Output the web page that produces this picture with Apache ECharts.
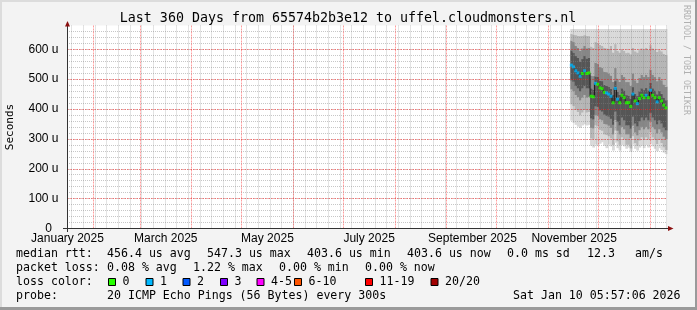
<!DOCTYPE html>
<html><head><meta charset="utf-8">
<script src="https://cdn.jsdelivr.net/npm/echarts@6/dist/echarts.min.js"></script>
<style>html,body{margin:0;padding:0;background:#f3f3f3}#c{width:697px;height:310px}</style>
</head><body><div id="c"></div>
<script>
// ---------- data ----------
const titleText = 'Last 360 Days from 65574b2b3e12 to uffel.cloudmonsters.nl';
const axisStartUTC = Date.UTC(2025, 0, 16, 5, 17);   // left edge of the time axis
const spanDays = 360;
const monthLabels = ['January 2025', 'March 2025', 'May 2025', 'July 2025', 'September 2025', 'November 2025'];
const monthLabelMonths = ['2025-01-01', '2025-03-01', '2025-05-01', '2025-07-01', '2025-09-01', '2025-11-01'];
const monthLines = ['2025-02-01', '2025-03-01', '2025-04-01', '2025-05-01', '2025-06-01', '2025-07-01',
  '2025-08-01', '2025-09-01', '2025-10-01', '2025-11-01', '2025-12-01', '2026-01-01'];
const firstWeekLine = '2025-01-19';
const yMax = 680;
const yMajor = 100;
const yMinor = 20;

const sampleStartDay = 302.6;   // days after axis start
const sampleStepDays = 1.32;

// median RTT (microseconds)
const median = [547, 541, 528, 521, 510, 519, 528, 519, 521, 443, 441, 486, 483, 471, 468, 456, 454, 450, 443, 421,
  469, 433, 421, 446, 438, 421, 421, 409, 450, 427, 418, 435, 446, 438, 446, 438, 463, 446, 438, 424, 438, 427, 413, 404];
// packet loss (%)
const lossPct = [0.20, 0.15, 0.10, 0.20, 0.10, 0, 0.15, 0, 0, 0, 0, 1.22, 0, 0, 0, 0, 0.10, 0.15, 0.10, 0,
  0.20, 0.10, 0, 0, 0, 0, 0, 0, 0.15, 0, 0.10, 0, 0, 0, 0.10, 0, 0.15, 0, 0, 0.10, 0, 0, 0, 0];
// smoke: distribution of the 20 pings per sample (bottom to top)
const minRtt = [362, 355, 348, 342, 338, 346, 350, 346, 348, 278, 272, 282, 278, 285, 290, 278, 270, 282, 276, 262,
  288, 270, 262, 280, 276, 268, 272, 258, 282, 268, 262, 272, 278, 270, 280, 272, 285, 276, 268, 260, 270, 264, 255, 250];
const p10 = [417, 411, 398, 391, 380, 389, 398, 389, 391, 303, 301, 346, 343, 331, 328, 316, 314, 310, 303, 281,
  329, 293, 281, 306, 298, 281, 281, 269, 310, 287, 278, 295, 306, 298, 306, 298, 323, 306, 298, 284, 298, 287, 273, 264];
const p25 = [467, 461, 448, 441, 430, 439, 448, 439, 441, 338, 336, 381, 378, 366, 363, 351, 349, 345, 338, 316,
  364, 328, 316, 341, 333, 316, 316, 304, 345, 322, 313, 330, 341, 333, 341, 333, 358, 341, 333, 319, 333, 322, 308, 300];
const coreLo = [497, 492, 478, 470, 460, 470, 478, 470, 470, 370, 366, 410, 408, 396, 392, 382, 378, 375, 368, 348,
  392, 358, 346, 372, 363, 346, 346, 335, 375, 352, 343, 360, 372, 363, 372, 363, 388, 372, 363, 350, 363, 352, 338, 330];
const coreHi = [597, 590, 578, 572, 560, 568, 578, 570, 572, 470, 466, 510, 508, 496, 494, 482, 478, 476, 468, 448,
  494, 458, 448, 470, 463, 447, 446, 435, 474, 452, 444, 460, 470, 464, 471, 463, 488, 470, 463, 450, 462, 452, 438, 430];
const p75 = [630, 625, 613, 606, 596, 604, 612, 604, 606, 513, 511, 556, 553, 541, 538, 526, 524, 520, 513, 492,
  538, 503, 492, 516, 508, 491, 491, 479, 520, 497, 488, 505, 516, 508, 516, 508, 533, 516, 508, 494, 508, 497, 483, 475];
const p90 = [652, 650, 648, 646, 645, 646, 648, 646, 645, 610, 606, 625, 622, 616, 612, 606, 604, 602, 612, 590,
  618, 596, 590, 600, 596, 588, 590, 584, 606, 594, 590, 598, 604, 600, 606, 600, 615, 604, 600, 592, 598, 594, 586, 582];
const maxRtt = [668, 668, 668, 668, 668, 668, 668, 668, 668, 668, 668, 668, 668, 668, 668, 668, 668, 668, 668, 668,
  668, 668, 668, 668, 668, 668, 668, 668, 668, 668, 668, 668, 668, 668, 668, 668, 668, 668, 668, 668, 668, 668, 668, 668];

const lossLabels = ['0', '1', '2', '3', '4-5', '6-10', '11-19', '20/20'];
const lossColors = ['#26ff00', '#00b8ff', '#0059ff', '#7e00ff', '#ff00ff', '#ff5500', '#ff0000', '#a10000'];
const lossUpper = [0, 1, 2, 3, 5, 10, 19, 20];   // lost pings out of 20

const rttStats = ['456.4 us avg', '547.3 us max', '403.6 us min', '403.6 us now', '0.0 ms sd', '12.3', 'am/s'];
const lossStats = ['0.08 % avg', '1.22 % max', '0.00 % min', '0.00 % now'];
const probeText = '20 ICMP Echo Pings (56 Bytes) every 300s';
const dateText = 'Sat Jan 10 05:57:06 2026';

// ---------- build ----------
const DAY = 86400000;
const toDay = s => (Date.parse(s + 'T00:00:00Z') - axisStartUTC) / DAY;
const labelDays = monthLabelMonths.map(s => toDay(s) + 15.5);
const monthDays = monthLines.map(toDay);
const weekDays = [];
for (let d = toDay(firstWeekLine); d < spanDays; d += 7) weekDays.push(d);
const xs = median.map((_, i) => sampleStartDay + i * sampleStepDays);
const lossClass = p => { const lost = p / 100 * 20; if (lost === 0) return 0; for (let k = 1; k < lossUpper.length; k++) if (lost <= lossUpper[k]) return k; return 7; };

const MONO = '"DejaVu Sans Mono", monospace';
const majorColor = 'rgba(255,0,0,0.38)';
const minorColor = 'rgba(130,130,130,0.45)';

const bounds = [minRtt, p10, p25, coreLo, coreHi, p75, p90, maxRtt];
const bandColors = ['#d9d9d9', '#b6b6b6', '#878787', '#565656', '#878787', '#b6b6b6', '#d9d9d9'];

const series = [];
// smoke as per-sample stacked bands
series.push({
  type: 'custom', silent: true, z: 2, encode: { x: 0, y: 1 },
  data: xs.map((x, i) => [x].concat(bounds.map(a => a[i]))),
  renderItem: (params, api) => {
    const x = api.value(0);
    const xa = api.coord([x - sampleStepDays / 2, 0])[0];
    const xb = api.coord([x + sampleStepDays / 2, 0])[0];
    const children = [];
    for (let b = 0; b < bandColors.length; b++) {
      const ylo = api.coord([x, api.value(b + 1)])[1];
      const yhi = api.coord([x, api.value(b + 2)])[1];
      children.push({ type: 'rect', shape: { x: xa, y: yhi, width: xb - xa + 0.6, height: ylo - yhi + 0.3 },
        style: { fill: bandColors[b] } });
    }
    return { type: 'group', children: children };
  }
});
// grid lines on top of the smoke
series.push({ type: 'line', symbol: 'none', silent: true, z: 3, lineStyle: { opacity: 0 }, data: [[0, 0]],
  markLine: { silent: true, symbol: ['none', 'none'], label: { show: false }, animation: false,
    data: weekDays.map(d => ({ xAxis: d, lineStyle: { color: minorColor, type: [1, 1], width: 1 } }))
      .concat(monthDays.map(d => ({ xAxis: d, lineStyle: { color: majorColor, type: [2, 1], width: 1 } }))) } });
// median line and loss-coloured markers
series.push({ type: 'line', step: 'middle', symbol: 'none', silent: true, z: 4,
  lineStyle: { color: '#1a1a1a', width: 1 }, data: xs.map((x, i) => [x, median[i]]) });
series.push({ type: 'scatter', symbol: 'rect', symbolSize: [3, 3], silent: true, z: 5,
  itemStyle: { color: p => lossColors[p.data[2]] },
  data: xs.map((x, i) => [x, median[i], lossClass(lossPct[i])]) });

// ---------- text / decoration ----------
const graphic = [];
graphic.push({ type: 'rect', shape: { x: 0, y: 0, width: 697, height: 2 }, style: { fill: '#dcdcdc' }, silent: true });
graphic.push({ type: 'rect', shape: { x: 0, y: 0, width: 2, height: 310 }, style: { fill: '#dcdcdc' }, silent: true });
graphic.push({ type: 'rect', shape: { x: 695, y: 0, width: 2, height: 310 }, style: { fill: '#9a9a9a' }, silent: true });
graphic.push({ type: 'rect', shape: { x: 0, y: 307, width: 697, height: 3 }, style: { fill: '#9a9a9a' }, silent: true });
graphic.push({ type: 'text', x: 348, y: 19, style: { text: titleText, font: '13.3px ' + MONO, fill: '#000', textAlign: 'center', textVerticalAlign: 'middle' } });
graphic.push({ type: 'text', x: 10.5, y: 127, rotation: Math.PI / 2, style: { text: 'Seconds', font: '11px ' + MONO, fill: '#000', textAlign: 'center', textVerticalAlign: 'middle' } });
graphic.push({ type: 'text', x: 686, y: 5, rotation: -Math.PI / 2, style: { text: 'RRDTOOL / TOBI OETIKER', font: '8.3px ' + MONO, fill: '#b0b0b0', textAlign: 'left', textVerticalAlign: 'middle' } });
// axis lines and arrows
graphic.push({ type: 'line', shape: { x1: 67.5, y1: 232, x2: 67.5, y2: 24 }, style: { stroke: '#333', lineWidth: 1 }, z: 10 });
graphic.push({ type: 'line', shape: { x1: 63, y1: 228.5, x2: 669, y2: 228.5 }, style: { stroke: '#333', lineWidth: 1 }, z: 10 });
graphic.push({ type: 'polygon', shape: { points: [[67.5, 21], [65, 26.5], [70, 26.5]] }, style: { fill: '#8b1010' }, z: 10 });
graphic.push({ type: 'polygon', shape: { points: [[673.5, 228.5], [668, 226], [668, 231]] }, style: { fill: '#8b1010' }, z: 10 });

const legendFont = '11.6px ' + MONO;
const addText = (x, y, t) => graphic.push({ type: 'text', x: x, y: y, style: { text: t, font: legendFont, fill: '#000', textVerticalAlign: 'middle' } });
const rttX = [107, 207, 307, 407, 507, 587, 635];
addText(16, 254, 'median rtt:');
rttStats.forEach((t, i) => addText(rttX[i], 254, t));
const lossX = [107, 193, 279, 365];
addText(16, 268, 'packet loss:');
lossStats.forEach((t, i) => addText(lossX[i], 268, t));
addText(16, 282, 'loss color:');
const boxX = [108, 145.5, 182.5, 220, 256.5, 294, 365, 430.5];
lossLabels.forEach((t, i) => {
  graphic.push({ type: 'rect', shape: { x: boxX[i] + 0.5, y: 278.5, width: 7, height: 7 }, style: { fill: lossColors[i], stroke: '#000', lineWidth: 1 } });
  addText(boxX[i] + 14.5, 282, t);
});
addText(16, 296, 'probe:');
addText(107, 296, probeText);
addText(513, 296, dateText);

const chart = echarts.init(document.getElementById('c'), null, { renderer: 'canvas', width: 697, height: 310 });
chart.setOption({
  animation: false,
  backgroundColor: '#f3f3f3',
  grid: { left: 67, top: 25.4, width: 600, height: 203.1, show: true, backgroundColor: '#ffffff', borderWidth: 0 },
  xAxis: {
    type: 'value', min: 0, max: spanDays, z: 3,
    axisLine: { show: false }, axisTick: { show: false }, splitLine: { show: false },
    axisLabel: { customValues: labelDays, margin: 4, font: '9.8px ' + MONO, color: '#000',
      formatter: v => { let k = 0, best = 1e9; labelDays.forEach((d, i) => { if (Math.abs(d - v) < best) { best = Math.abs(d - v); k = i; } }); return monthLabels[k]; } }
  },
  yAxis: [
    { type: 'value', min: 0, max: yMax, interval: yMinor, position: 'left', z: 3,
      axisLine: { show: false }, axisTick: { show: false }, axisLabel: { show: false },
      splitLine: { show: true, showMaxLine: false, lineStyle: { color: minorColor, type: [1, 1], width: 1 } } },
    { type: 'value', min: 0, max: yMax, interval: yMajor, position: 'left', offset: 0, z: 3,
      axisLine: { show: false }, axisTick: { show: false },
      axisLabel: { margin: 8.5, font: '9.7px ' + MONO, color: '#000', showMaxLabel: false,
        formatter: v => (v % yMajor !== 0 || v > 600) ? '' : (v === 0 ? '0  ' : v + ' u') },
      splitLine: { show: true, showMaxLine: false, showMinLine: false, lineStyle: { color: majorColor, type: [2, 1], width: 1 } } }
  ],
  series: series,
  graphic: graphic
});
</script></body></html>
